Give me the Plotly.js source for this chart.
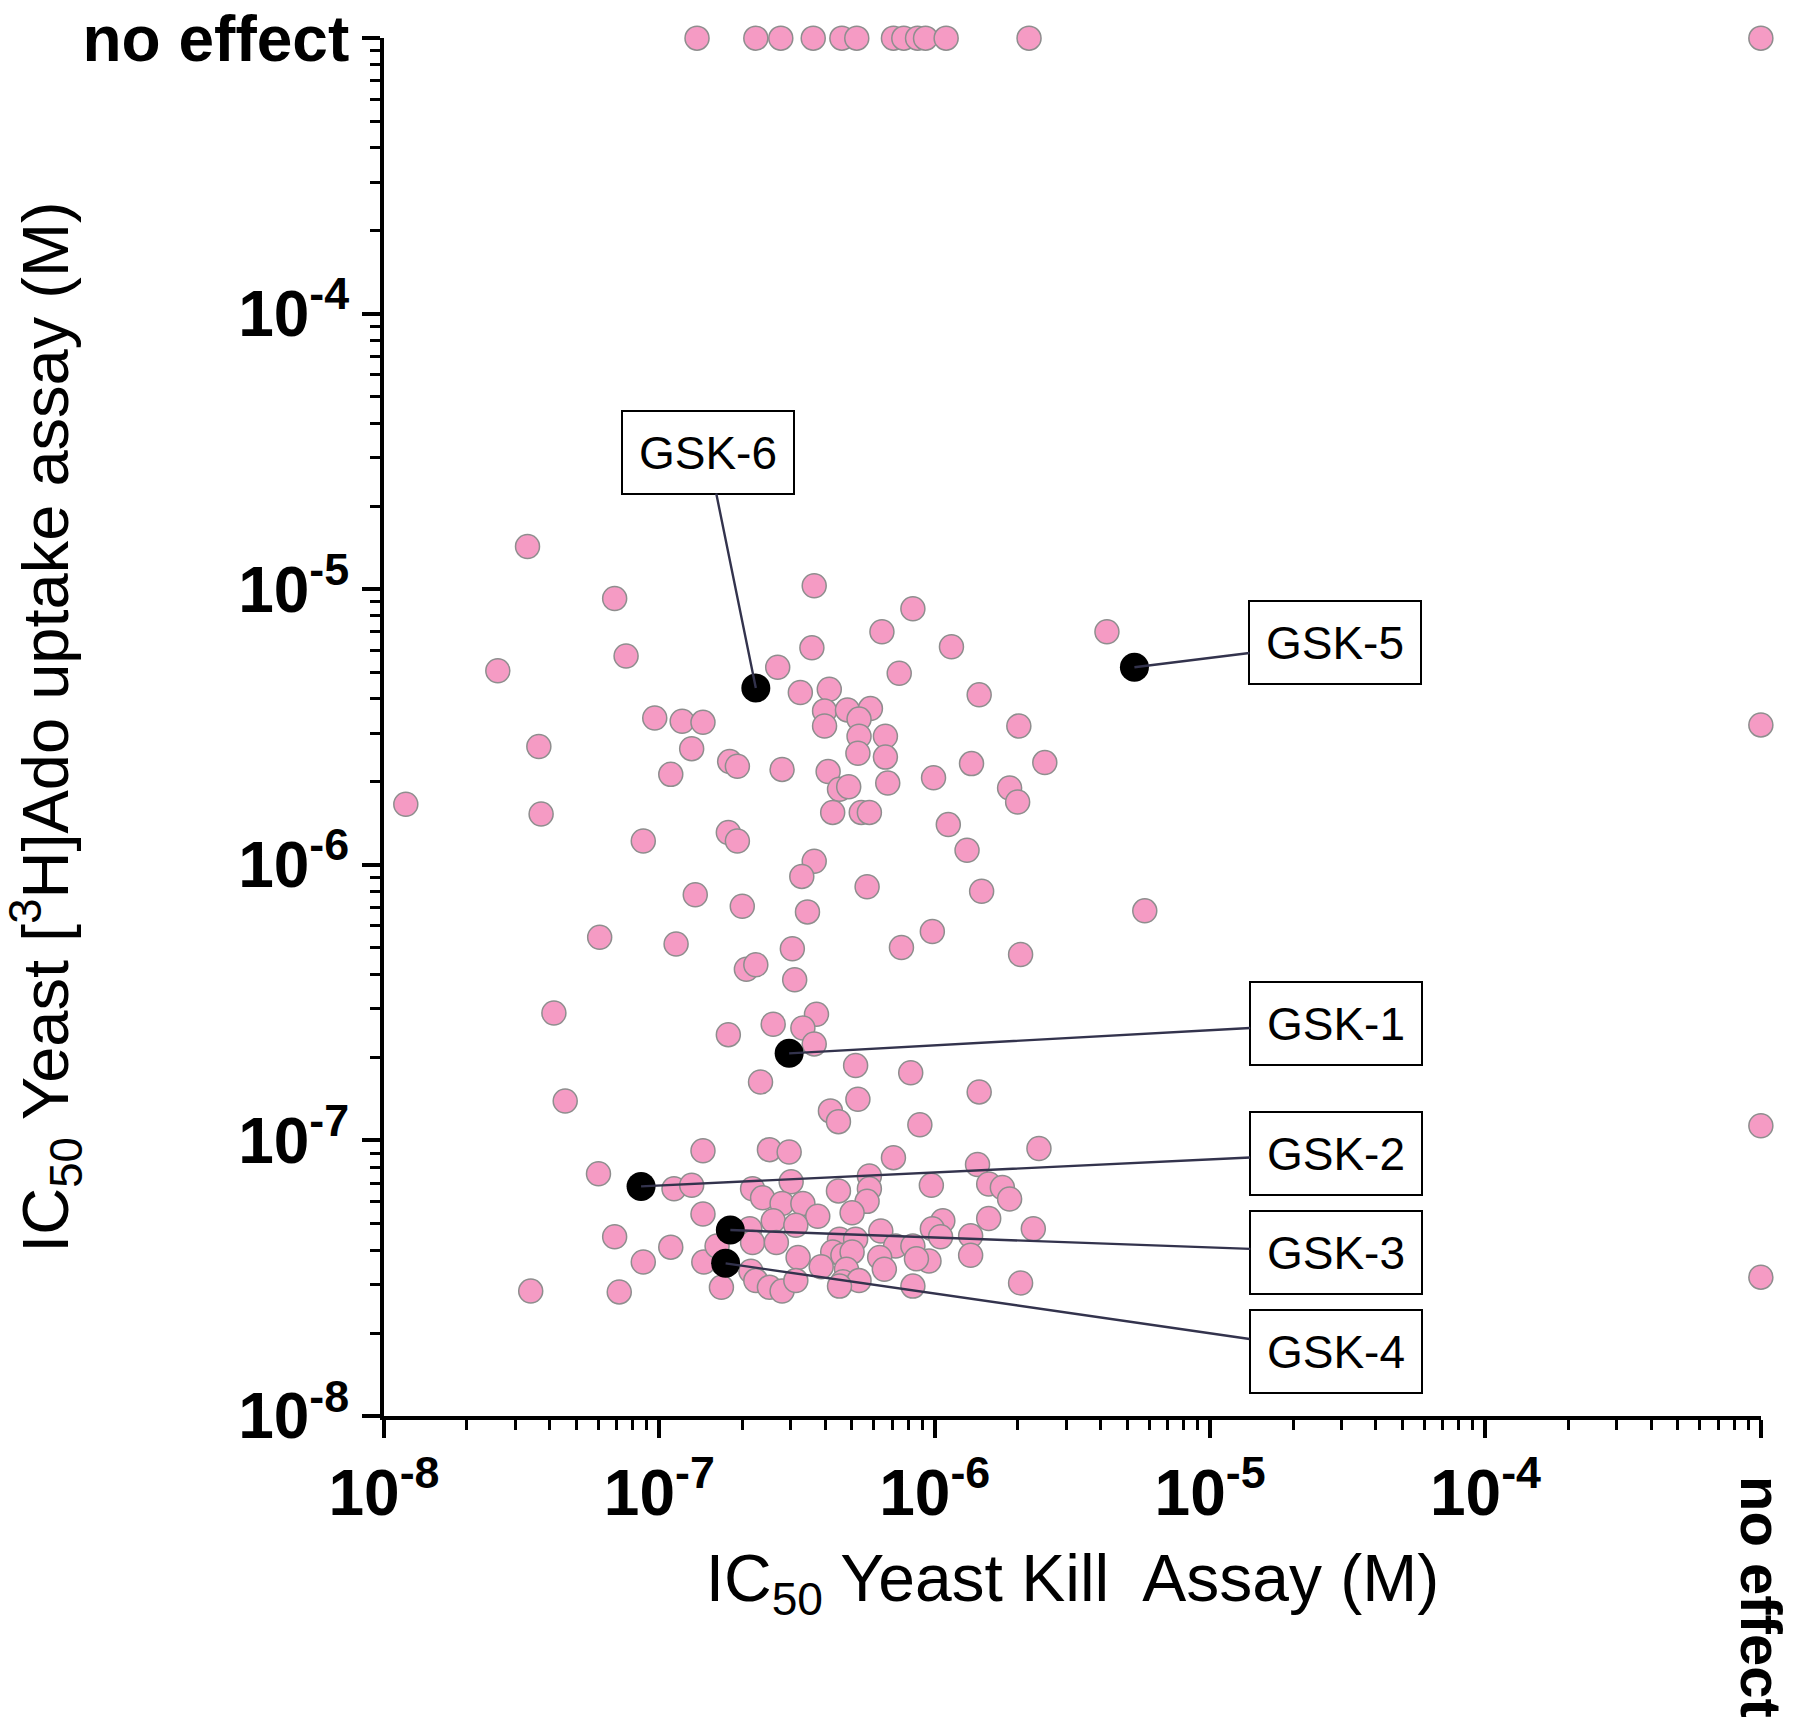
<!DOCTYPE html>
<html>
<head>
<meta charset="utf-8">
<script src="https://cdn.plot.ly/plotly-3.0.1.min.js"></script>
<style>
html,body{margin:0;padding:0;background:#fff;}
#chart{width:1800px;height:1723px;}
</style>
</head>
<body>
<div id="chart"></div>
<script>
// "no effect" category is placed at 1e-3 M on both axes
const NO_EFFECT = 1e-3;

// compounds with measurable IC50 in both assays (M)
const killIC50 = [
3.32e-8,6.88e-8,3.65e-7,8.33e-7,2.59e-8,7.57e-8,3.58e-7,6.43e-7,1.15e-6,4.22e-6,
2.69e-7,7.43e-7,3.25e-7,4.14e-7,1.45e-6,9.62e-8,1.21e-7,1.44e-7,3.98e-7,3.98e-7,
4.82e-7,5.84e-7,5.31e-7,5.31e-7,5.26e-7,6.62e-7,6.62e-7,2.02e-6,1.31e-7,1.80e-7,
1.92e-7,2.79e-7,1.10e-7,4.10e-7,4.51e-7,4.87e-7,6.75e-7,1.36e-6,2.51e-6,9.9e-7,
1.87e-6,2.0e-6,4.26e-7,5.41e-7,5.79e-7,8.74e-8,1.78e-7,1.92e-7,1.12e-6,1.31e-6,
3.65e-7,3.29e-7,5.68e-7,1.48e-6,1.35e-7,2.0e-7,3.45e-7,9.8e-7,7.57e-7,2.05e-6,
1.15e-7,3.04e-7,2.07e-7,2.24e-7,3.10e-7,1.78e-7,2.59e-7,3.72e-7,3.32e-7,3.65e-7,
1.20e-8,3.65e-8,3.72e-8,6.07e-8,4.14e-8,5.79e-6,5.16e-7,8.18e-7,1.45e-6,2.33e-7,
5.26e-7,4.18e-7,4.47e-7,8.83e-7,4.55e-8,1.44e-7,2.51e-7,2.96e-7,7.08e-7,2.39e-6,
1.43e-6,1.13e-7,1.31e-7,2.18e-7,2.37e-7,3.01e-7,4.47e-7,5.79e-7,5.79e-7,5.68e-7,
5.01e-7,9.72e-7,1.57e-6,1.76e-6,1.87e-6,1.57e-6,2.28e-6,1.44e-7,2.79e-7,3.32e-7,
3.76e-7,2.59e-7,3.13e-7,1.07e-6,9.8e-7,1.05e-6,1.35e-6,1.35e-6,6.37e-7,4.51e-7,
5.16e-7,2.13e-7,2.18e-7,2.66e-7,4.26e-7,4.64e-7,5.01e-7,3.19e-7,7.21e-7,8.33e-7,
9.53e-7,8.58e-7,6.31e-7,6.56e-7,3.87e-7,4.78e-7,4.64e-7,5.31e-7,1.10e-7,8.74e-8,
1.45e-7,1.62e-7,1.68e-7,2.15e-7,2.24e-7,2.51e-7,2.79e-7,3.13e-7,4.51e-7,8.33e-7,
2.05e-6,6.01e-8,6.88e-8,3.41e-8,7.15e-8
];
const uptakeIC50 = [
1.43e-5,9.26e-6,1.03e-5,8.5e-6,5.06e-6,5.73e-6,6.13e-6,7.01e-6,6.19e-6,7.01e-6,
5.21e-6,4.96e-6,4.22e-6,4.34e-6,4.14e-6,3.41e-6,3.32e-6,3.29e-6,3.62e-6,3.19e-6,
3.65e-6,3.69e-6,3.38e-6,2.93e-6,2.54e-6,2.93e-6,2.46e-6,3.19e-6,2.64e-6,2.37e-6,
2.28e-6,2.22e-6,2.13e-6,2.18e-6,1.88e-6,1.92e-6,1.98e-6,2.33e-6,2.35e-6,2.07e-6,
1.90e-6,1.69e-6,1.55e-6,1.55e-6,1.55e-6,1.22e-6,1.31e-6,1.22e-6,1.40e-6,1.13e-6,
1.03e-6,9.08e-7,8.33e-7,8.02e-7,7.79e-7,7.08e-7,6.75e-7,5.73e-7,5.01e-7,4.73e-7,
5.16e-7,4.96e-7,4.18e-7,4.34e-7,3.83e-7,2.42e-7,2.64e-7,2.87e-7,2.56e-7,2.24e-7,
1.66e-6,2.69e-6,1.53e-6,5.46e-7,2.90e-7,6.81e-7,1.87e-7,1.76e-7,1.50e-7,1.63e-7,
1.41e-7,1.28e-7,1.17e-7,1.14e-7,1.39e-7,9.17e-8,9.26e-8,9.08e-8,8.66e-8,9.35e-8,
8.18e-8,6.68e-8,6.88e-8,6.68e-8,6.19e-8,7.08e-8,6.56e-8,7.43e-8,6.68e-8,6.01e-8,
5.46e-8,6.88e-8,6.95e-8,6.75e-8,6.13e-8,5.21e-8,4.78e-8,5.41e-8,5.90e-8,5.90e-8,
5.31e-8,5.11e-8,4.92e-8,5.11e-8,4.78e-8,4.47e-8,4.51e-8,3.83e-8,4.69e-8,4.38e-8,
4.38e-8,4.78e-8,4.26e-8,4.26e-8,3.94e-8,3.83e-8,3.94e-8,3.76e-8,4.14e-8,4.14e-8,
3.65e-8,3.72e-8,3.76e-8,3.41e-8,3.48e-8,3.41e-8,3.07e-8,3.10e-8,4.10e-8,3.62e-8,
3.62e-8,4.14e-8,2.93e-8,3.35e-8,3.10e-8,2.93e-8,2.84e-8,3.10e-8,2.96e-8,2.96e-8,
3.04e-8,7.57e-8,4.47e-8,2.84e-8,2.82e-8
];

// compounds with no effect in the uptake assay: kill IC50 (M)
const killNoUptakeEffect = [1.37e-7,2.24e-7,2.76e-7,3.62e-7,4.60e-7,5.21e-7,7.08e-7,7.72e-7,8.66e-7,9.26e-7,1.10e-6,2.20e-6,NO_EFFECT];
// compounds with no effect in the kill assay: uptake IC50 (M)
const uptakeNoKillEffect = [3.22e-6,1.13e-7,3.19e-8];

// highlighted compounds
const gskNames  = ['GSK-1','GSK-2','GSK-3','GSK-4','GSK-5','GSK-6'];
const gskKill   = [2.96e-7,8.58e-8,1.81e-7,1.74e-7,5.31e-6,2.24e-7];
const gskUptake = [2.07e-7,6.81e-8,4.73e-8,3.58e-8,5.21e-6,4.38e-6];

// axis ticks
const tickVals = [1e-8,1e-7,1e-6,1e-5,1e-4,NO_EFFECT];
const yTickText = ['10<sup>-8</sup>','10<sup>-7</sup>','10<sup>-6</sup>','10<sup>-5</sup>','10<sup>-4</sup>','no effect'];
const xTickText = ['10<sup>-8</sup>','10<sup>-7</sup>','10<sup>-6</sup>','10<sup>-5</sup>','10<sup>-4</sup>',''];
const xNoEffectLabel = 'no effect';

// label box offsets (px) from each highlighted point
const labelOffsets = [[547,-30],[695,-33],[606,22],[610,88],[201,-25],[-48,-236]];

const PINK = '#F59BC4';
const FONT = 'Liberation Sans, Arial, sans-serif';

const traces = [
  {type:'scatter', mode:'markers', x:killIC50, y:uptakeIC50,
   marker:{size:24, color:PINK, line:{color:'#8e8e8e', width:1.5}}, cliponaxis:false},
  {type:'scatter', mode:'markers', x:killNoUptakeEffect, y:killNoUptakeEffect.map(()=>NO_EFFECT),
   marker:{size:24, color:PINK, line:{color:'#8e8e8e', width:1.5}}, cliponaxis:false},
  {type:'scatter', mode:'markers', x:uptakeNoKillEffect.map(()=>NO_EFFECT), y:uptakeNoKillEffect,
   marker:{size:24, color:PINK, line:{color:'#8e8e8e', width:1.5}}, cliponaxis:false},
  {type:'scatter', mode:'markers', x:gskKill, y:gskUptake, text:gskNames,
   marker:{size:29, color:'#000000'}, cliponaxis:false}
];

const annotations = gskNames.map((n,i)=>({
  x:Math.log10(gskKill[i]), y:Math.log10(gskUptake[i]), xref:'x', yref:'y',
  text:n, showarrow:true, arrowhead:0, arrowwidth:2.4, arrowcolor:'#33334d',
  ax:labelOffsets[i][0], ay:labelOffsets[i][1], standoff:0,
  font:{family:FONT, size:46, color:'#000'},
  bgcolor:'#ffffff', bordercolor:'#000000', borderwidth:2, borderpad:12,
  width:146, height:57, align:'center', valign:'middle'
}));
annotations.push({
  x:Math.log10(NO_EFFECT), xref:'x', y:-0.1313, yref:'paper',
  text:xNoEffectLabel, showarrow:false, textangle:90,
  xanchor:'center', yanchor:'middle',
  font:{family:FONT, size:58, color:'#000', weight:'bold'}
});

// upper limit nudged a hair past 1e-3 so the "no effect" points sit inside the range
const axisCommon = {
  type:'log', range:[-8,-2.9995], tickmode:'array', tickvals:tickVals,
  ticks:'outside', ticklen:18, tickwidth:4, tickcolor:'#000',
  showline:true, linewidth:4, linecolor:'#000',
  showgrid:false, zeroline:false,
  tickfont:{family:FONT, size:64, color:'#000', weight:'bold'},
  minor:{dtick:'D1', ticks:'outside', ticklen:10, tickwidth:3, tickcolor:'#000', showgrid:false}
};

const layout = {
  width:1800, height:1723,
  margin:{l:384, r:39, t:38, b:307},
  paper_bgcolor:'#ffffff', plot_bgcolor:'#ffffff',
  showlegend:false,
  font:{family:FONT, color:'#000'},
  xaxis:Object.assign({}, axisCommon, {
    ticktext:xTickText,
    title:{text:'IC<sub>50</sub> Yeast Kill&nbsp; Assay (M)', font:{family:FONT, size:66, color:'#000'}, standoff:28}
  }),
  yaxis:Object.assign({}, axisCommon, {
    ticktext:yTickText,
    title:{text:'IC<sub>50</sub> Yeast [<sup>3</sup>H]Ado uptake assay (M)', font:{family:FONT, size:65, color:'#000'}, standoff:10}
  }),
  annotations:annotations
};

Plotly.newPlot('chart', traces, layout, {displayModeBar:false, staticPlot:true});
</script>
</body>
</html>
